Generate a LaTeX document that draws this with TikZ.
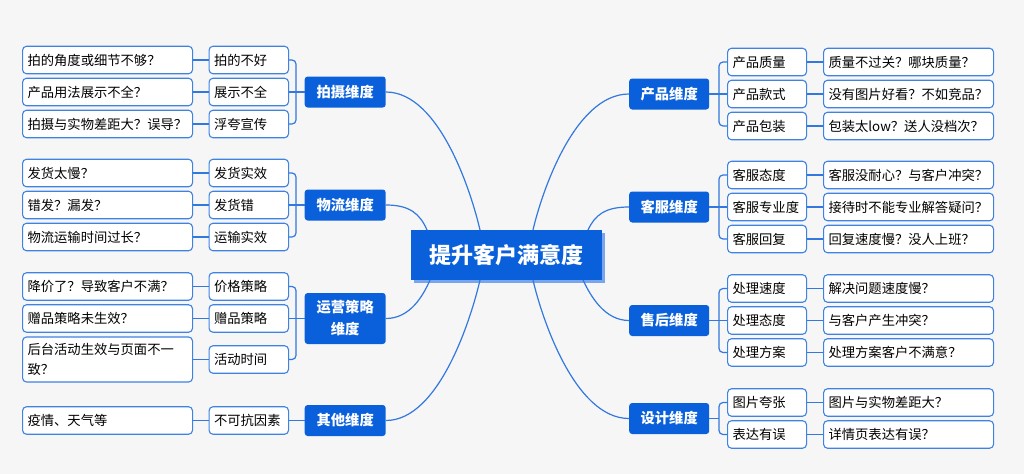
\documentclass[tikz,border=0pt]{standalone}
\usepackage{fontspec}
\setmainfont{Noto Sans CJK SC}
\definecolor{mainblue}{RGB}{10,96,218}
\definecolor{bordcol}{RGB}{62,130,226}
\definecolor{linecol}{RGB}{50,120,222}
\definecolor{bgcol}{RGB}{246,246,247}
\definecolor{shadecol}{RGB}{120,165,235}
\begin{document}
\begin{tikzpicture}[x=1pt,y=-1pt,
  cat/.style={fill=mainblue,text=white,rounded corners=3pt,font=\bfseries\fontsize{14.3}{19}\selectfont,
    minimum height=31pt,minimum width=81pt,inner sep=0pt,align=center,anchor=west},
  boxbase/.style={draw=bordcol,line width=1.1pt,fill=white,rounded corners=4pt,minimum height=27.5pt,
    inner xsep=5pt,inner ysep=0pt,align=left,font=\fontsize{13.3}{17}\selectfont,anchor=west},
  midl/.style={boxbase,text width=69.5pt},
  midr/.style={boxbase,text width=69pt},
  leaf/.style={boxbase,text width=160pt},
  conn/.style={draw=linecol,line width=1.2pt},
  brack/.style={conn,rounded corners=4pt}]
\fill[bgcol] (0,0) rectangle (1024,474);
\useasboundingbox (0,0) rectangle (1024,474);

% centre
\fill[shadecol] (413.5,232.5) rectangle (604.5,282.5);
\node[fill=mainblue,text=white,minimum width=191pt,minimum height=50pt,inner sep=0pt,
  font=\bfseries\fontsize{22}{26}\selectfont] (ctr) at (506.5,255) {提升客户满意度};

% ---------- left: 拍摄维度
\node[cat] (c1) at (304.5,92) {拍摄维度};
\node[midl] (m11) at (208.5,60) {拍的不好};
\node[midl] (m12) at (208.5,92) {展示不全};
\node[midl] (m13) at (208.5,124) {浮夸宣传};
\node[leaf] (l11) at (22,60) {拍的角度或细节不够？};
\node[leaf] (l12) at (22,92) {产品用法展示不全？};
\node[leaf] (l13) at (22,124) {拍摄与实物差距大？误导？};
\coordinate (b1) at (296,92);
\draw[brack] (m11.east) -| (b1) |- (m13.east);
\draw[conn] (m12.east) -- (c1.west);
\draw[conn] (l11.east) -- (m11.west);
\draw[conn] (l12.east) -- (m12.west);
\draw[conn] (l13.east) -- (m13.west);

% ---------- left: 物流维度
\node[cat] (c2) at (304.5,205) {物流维度};
\node[midl] (m21) at (208.5,173) {发货实效};
\node[midl] (m22) at (208.5,205) {发货错};
\node[midl] (m23) at (208.5,237) {运输实效};
\node[leaf] (l21) at (22,173) {发货太慢？};
\node[leaf] (l22) at (22,205) {错发？漏发？};
\node[leaf] (l23) at (22,237) {物流运输时间过长？};
\coordinate (b2) at (296,205);
\draw[brack] (m21.east) -| (b2) |- (m23.east);
\draw[conn] (m22.east) -- (c2.west);
\draw[conn] (l21.east) -- (m21.west);
\draw[conn] (l22.east) -- (m22.west);
\draw[conn] (l23.east) -- (m23.west);

% ---------- left: 运营策略维度
\node[cat,minimum height=51pt,font=\bfseries\fontsize{14.3}{22}\selectfont] (c3) at (304.5,318.5) {运营策略\\维度};
\node[midl] (m31) at (208.5,286.5) {价格策略};
\node[midl] (m32) at (208.5,318.5) {赠品策略};
\node[midl] (m33) at (208.5,359.5) {活动时间};
\node[leaf] (l31) at (22,286.5) {降价了？导致客户不满？};
\node[leaf] (l32) at (22,318.5) {赠品策略未生效？};
\node[leaf,minimum height=45pt,font=\fontsize{13.3}{20}\selectfont] (l33) at (22,359.5) {后台活动生效与页面不一\\致？};
\coordinate (b3) at (296,318.5);
\draw[brack] (m31.east) -| (b3) |- (m33.east);
\draw[conn] (m32.east) -- (c3.west);
\draw[conn] (l31.east) -- (m31.west);
\draw[conn] (l32.east) -- (m32.west);
\draw[conn] (l33.east) -- (m33.west);

% ---------- left: 其他维度
\node[cat] (c4) at (304.5,420.5) {其他维度};
\node[midl] (m41) at (208.5,420.5) {不可抗因素};
\node[leaf] (l41) at (22,420.5) {疫情、天气等};
\draw[conn] (m41.east) -- (c4.west);
\draw[conn] (l41.east) -- (m41.west);

% ---------- right: 产品维度
\node[cat,minimum width=80pt] (c5) at (629,94) {产品维度};
\node[midr] (m51) at (727,62) {产品质量};
\node[midr] (m52) at (727,94) {产品款式};
\node[midr] (m53) at (727,126) {产品包装};
\node[leaf] (l51) at (823,62) {质量不过关？哪块质量？};
\node[leaf] (l52) at (823,94) {没有图片好看？不如竞品？};
\node[leaf] (l53) at (823,126) {包装太low？送人没档次？};
\coordinate (b5) at (719,94);
\draw[brack] (m51.west) -| (b5) |- (m53.west);
\draw[conn] (c5.east) -- (m52.west);
\draw[conn] (m51.east) -- (l51.west);
\draw[conn] (m52.east) -- (l52.west);
\draw[conn] (m53.east) -- (l53.west);

% ---------- right: 客服维度
\node[cat,minimum width=80pt] (c6) at (629,207) {客服维度};
\node[midr] (m61) at (727,175) {客服态度};
\node[midr] (m62) at (727,207) {客服专业度};
\node[midr] (m63) at (727,239) {客服回复};
\node[leaf] (l61) at (823,175) {客服没耐心？与客户冲突？};
\node[leaf] (l62) at (823,207) {接待时不能专业解答疑问？};
\node[leaf] (l63) at (823,239) {回复速度慢？没人上班？};
\coordinate (b6) at (719,207);
\draw[brack] (m61.west) -| (b6) |- (m63.west);
\draw[conn] (c6.east) -- (m62.west);
\draw[conn] (m61.east) -- (l61.west);
\draw[conn] (m62.east) -- (l62.west);
\draw[conn] (m63.east) -- (l63.west);

% ---------- right: 售后维度
\node[cat,minimum width=80pt] (c7) at (629,320.5) {售后维度};
\node[midr] (m71) at (727,288.5) {处理速度};
\node[midr] (m72) at (727,320.5) {处理态度};
\node[midr] (m73) at (727,352.5) {处理方案};
\node[leaf] (l71) at (823,288.5) {解决问题速度慢？};
\node[leaf] (l72) at (823,320.5) {与客户产生冲突？};
\node[leaf] (l73) at (823,352.5) {处理方案客户不满意？};
\coordinate (b7) at (719,320.5);
\draw[brack] (m71.west) -| (b7) |- (m73.west);
\draw[conn] (c7.east) -- (m72.west);
\draw[conn] (m71.east) -- (l71.west);
\draw[conn] (m72.east) -- (l72.west);
\draw[conn] (m73.east) -- (l73.west);

% ---------- right: 设计维度
\node[cat,minimum width=80pt] (c8) at (629,418.5) {设计维度};
\node[midr] (m81) at (727,402.5) {图片夸张};
\node[midr] (m82) at (727,434.5) {表达有误};
\node[leaf] (l81) at (823,402.5) {图片与实物差距大？};
\node[leaf] (l82) at (823,434.5) {详情页表达有误？};
\coordinate (b8) at (719,418.5);
\draw[brack] (m81.west) -| (b8) |- (m82.west);
\draw[conn] (c8.east) -- (b8);
\draw[conn] (m81.east) -- (l81.west);
\draw[conn] (m82.east) -- (l82.west);

% ---------- centre connectors
\coordinate (t1) at (480,230);
\coordinate (t2) at (427,230);
\coordinate (t5) at (533,230);
\coordinate (t6) at (588,230);
\coordinate (u3) at (430,280);
\coordinate (u4) at (480,280);
\coordinate (u7) at (583,280);
\coordinate (u8) at (533,280);
\draw[conn] (c1.east) .. controls (440,92) and (472,195) .. (t1);
\draw[conn] (c2.east) .. controls (410,205) and (420,214) .. (t2);
\draw[conn] (c3.east) .. controls (410,318.5) and (423,296) .. (u3);
\draw[conn] (c4.east) .. controls (440,420.5) and (472,315) .. (u4);
\draw[conn] (c5.west) .. controls (574,94) and (541,195) .. (t5);
\draw[conn] (c6.west) .. controls (605,207) and (595,215) .. (t6);
\draw[conn] (c7.west) .. controls (605,320.5) and (591,297) .. (u7);
\draw[conn] (c8.west) .. controls (574,418.5) and (541,315) .. (u8);
\end{tikzpicture}
\end{document}
